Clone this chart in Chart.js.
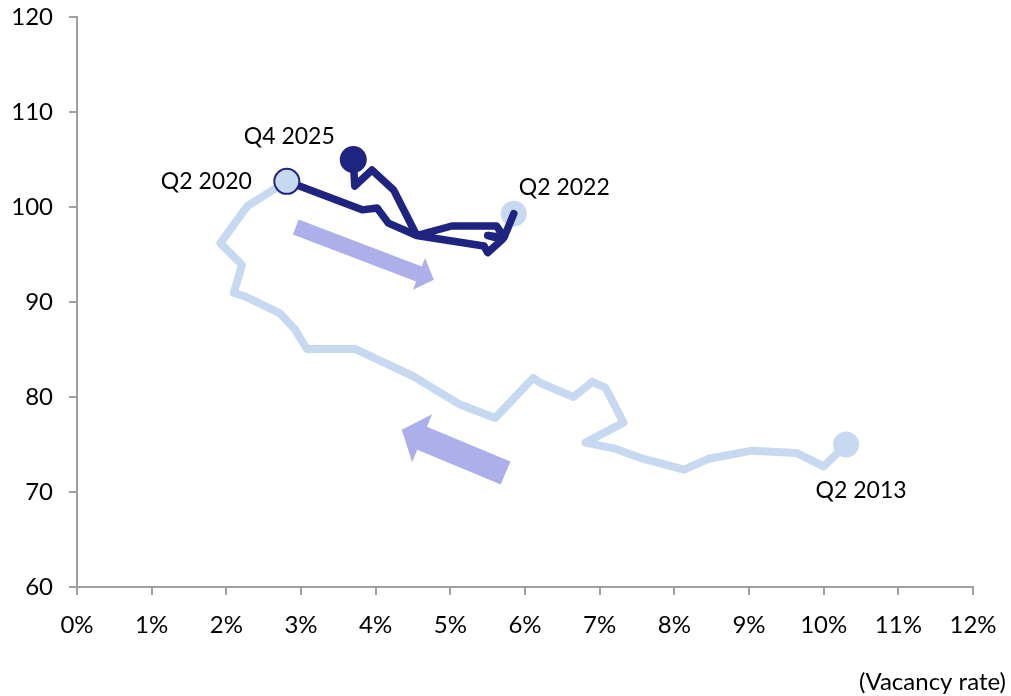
<!DOCTYPE html>
<html>
<head>
<meta charset="utf-8">
<script src="https://cdn.jsdelivr.net/npm/chart.js@4.4.1/dist/chart.umd.min.js"></script>
<style>
  html, body { margin: 0; padding: 0; background: #ffffff; }
  #wrap { width: 1011px; height: 696px; }
</style>
</head>
<body>
<div id="wrap"><canvas id="chart" width="1011" height="696"></canvas></div>
<script>
// Vacancy rate (%) and index, Q2 2013 -> Q2 2020
const preVacancy = [10.30, 10.00, 9.64, 9.04, 8.46, 8.13, 7.54, 7.19, 6.81, 7.32, 7.08, 6.90, 6.65, 6.20, 6.11, 5.60, 5.13, 4.50, 3.73, 3.08, 2.92, 2.72, 2.25, 2.10, 2.21, 1.92, 2.28, 2.81];
const preIndex   = [75.0, 72.7, 74.1, 74.35, 73.5, 72.35, 73.6, 74.6, 75.2, 77.3, 80.95, 81.6, 80.0, 81.5, 82.0, 77.8, 79.2, 82.2, 85.05, 85.05, 87.1, 88.8, 90.6, 90.95, 93.9, 96.2, 100.1, 102.7];

// Vacancy rate (%) and index, Q2 2020 -> Q4 2025
const postVacancy = [2.81, 3.82, 4.02, 4.17, 4.55, 5.02, 5.62, 5.72, 5.85, 5.72, 5.50, 5.70, 5.50, 5.45, 4.87, 4.55, 4.24, 3.95, 3.72, 3.70];
const postIndex   = [102.7, 99.7, 99.9, 98.3, 97.0, 98.0, 98.0, 96.8, 99.3, 96.8, 97.0, 96.6, 95.2, 95.9, 96.6, 97.0, 101.8, 103.9, 102.2, 105.0];

// Highlighted quarters
const markerLabels = ['Q2 2013', 'Q2 2020', 'Q2 2022', 'Q4 2025'];

// Axis ticks
const xTickValues = [0, 1, 2, 3, 4, 5, 6, 7, 8, 9, 10, 11, 12];
const yTickValues = [60, 70, 80, 90, 100, 110, 120];

// Direction arrows, in data coordinates [vacancy, index]
const arrowTails = [[2.93, 97.9], [5.74, 72.0]];
const arrowTips  = [[4.78, 92.35], [4.35, 76.55]];

const LIGHT = '#C6D9F0';
const DARK = '#1F2481';
const ARROW = '#ADAFEB';
const AXIS = '#A0A0A0';
const FONT = 'Lato, "Open Sans", sans-serif';
const LABEL_SIZE = 23;
const TICK_SIZE = 24;

const toPoints = (xs, ys) => xs.map((x, i) => ({ x: x, y: ys[i] }));
const prePts = toPoints(preVacancy, preIndex);
const postPts = toPoints(postVacancy, postIndex);

const q213 = prePts[0];
const q220 = postPts[0];
const q222 = postPts[8];
const q425 = postPts[postPts.length - 1];

const arrowPlugin = {
  id: 'arrows',
  beforeDatasetsDraw(chart) {
    const { ctx, scales: { x, y } } = chart;
    const specs = [
      { shaft: 16, head: 34, len: 16 },
      { shaft: 25, head: 52, len: 22 }
    ];
    ctx.save();
    ctx.fillStyle = ARROW;
    arrowTails.forEach((t, i) => {
      const x0 = x.getPixelForValue(t[0]), y0 = y.getPixelForValue(t[1]);
      const x1 = x.getPixelForValue(arrowTips[i][0]), y1 = y.getPixelForValue(arrowTips[i][1]);
      const dx = x1 - x0, dy = y1 - y0;
      const L = Math.hypot(dx, dy);
      const ux = dx / L, uy = dy / L, nx = -uy, ny = ux;
      const s = specs[i];
      const bx = x1 - ux * s.len, by = y1 - uy * s.len;
      ctx.beginPath();
      ctx.moveTo(x0 + nx * s.shaft / 2, y0 + ny * s.shaft / 2);
      ctx.lineTo(bx + nx * s.shaft / 2, by + ny * s.shaft / 2);
      ctx.lineTo(bx + nx * s.head / 2, by + ny * s.head / 2);
      ctx.lineTo(x1, y1);
      ctx.lineTo(bx - nx * s.head / 2, by - ny * s.head / 2);
      ctx.lineTo(bx - nx * s.shaft / 2, by - ny * s.shaft / 2);
      ctx.lineTo(x0 - nx * s.shaft / 2, y0 - ny * s.shaft / 2);
      ctx.closePath();
      ctx.fill();
    });
    ctx.restore();
  }
};

const labelPlugin = {
  id: 'pointLabels',
  afterDatasetsDraw(chart) {
    const { ctx, scales: { x, y } } = chart;
    const items = [
      { text: markerLabels[0], p: q213, dx: 15, dy: 46, align: 'center' },
      { text: markerLabels[1], p: q220, dx: -35, dy: 0, align: 'right' },
      { text: markerLabels[2], p: q222, dx: 5, dy: -26, align: 'left' },
      { text: markerLabels[3], p: q425, dx: -64, dy: -23, align: 'center' }
    ];
    ctx.save();
    ctx.fillStyle = '#000000';
    ctx.font = LABEL_SIZE + 'px ' + FONT;
    ctx.textBaseline = 'middle';
    items.forEach(it => {
      ctx.textAlign = it.align;
      ctx.fillText(it.text, x.getPixelForValue(it.p.x) + it.dx, y.getPixelForValue(it.p.y) + it.dy);
    });
    ctx.font = TICK_SIZE + 'px ' + FONT;
    ctx.textAlign = 'right';
    ctx.fillText('(Vacancy rate)', 1006, 682);
    ctx.restore();
  }
};

const marker = (pt, radius, fill, border, bw, order) => ({
  data: [pt],
  showLine: false,
  pointRadius: radius,
  pointHoverRadius: radius,
  pointBackgroundColor: fill,
  pointBorderColor: border,
  pointBorderWidth: bw,
  order: order
});

new Chart(document.getElementById('chart'), {
  type: 'scatter',
  data: {
    datasets: [
      {
        data: prePts, showLine: true, borderColor: LIGHT, borderWidth: 8,
        borderJoinStyle: 'round', borderCapStyle: 'round', pointRadius: 0, order: 6
      },
      marker(q213, 13, LIGHT, LIGHT, 0, 5),
      marker(q222, 13, LIGHT, LIGHT, 0, 4),
      {
        data: postPts, showLine: true, borderColor: DARK, borderWidth: 7.5,
        borderJoinStyle: 'round', borderCapStyle: 'round', pointRadius: 0, order: 3
      },
      marker(q220, 12.5, LIGHT, DARK, 2, 2),
      marker(q425, 13.5, DARK, DARK, 0, 1)
    ]
  },
  options: {
    responsive: false,
    animation: false,
    layout: { autoPadding: false, padding: { left: 0, right: 38, top: 17, bottom: 0 } },
    plugins: { legend: { display: false }, tooltip: { enabled: false } },
    scales: {
      x: {
        type: 'linear', min: 0, max: 12,
        afterBuildTicks: s => { s.ticks = xTickValues.map(v => ({ value: v })); },
        afterFit: s => { s.height = 109; s.paddingLeft = 0; s.paddingRight = 0; },
        border: { color: AXIS, width: 2 },
        grid: { display: true, drawOnChartArea: false, drawTicks: true, tickLength: 8, color: AXIS, lineWidth: 2 },
        ticks: { color: '#000000', font: { family: FONT, size: TICK_SIZE }, padding: 16, maxRotation: 0,
                 callback: v => v + '%' }
      },
      y: {
        type: 'linear', min: 60, max: 120,
        afterBuildTicks: s => { s.ticks = yTickValues.map(v => ({ value: v })); },
        afterFit: s => { s.width = 77; s.paddingTop = 0; s.paddingBottom = 0; },
        border: { color: AXIS, width: 2 },
        grid: { display: true, drawOnChartArea: false, drawTicks: true, tickLength: 8, color: AXIS, lineWidth: 2 },
        ticks: { color: '#000000', font: { family: FONT, size: TICK_SIZE }, padding: 16 }
      }
    }
  },
  plugins: [arrowPlugin, labelPlugin]
});
</script>
</body>
</html>
